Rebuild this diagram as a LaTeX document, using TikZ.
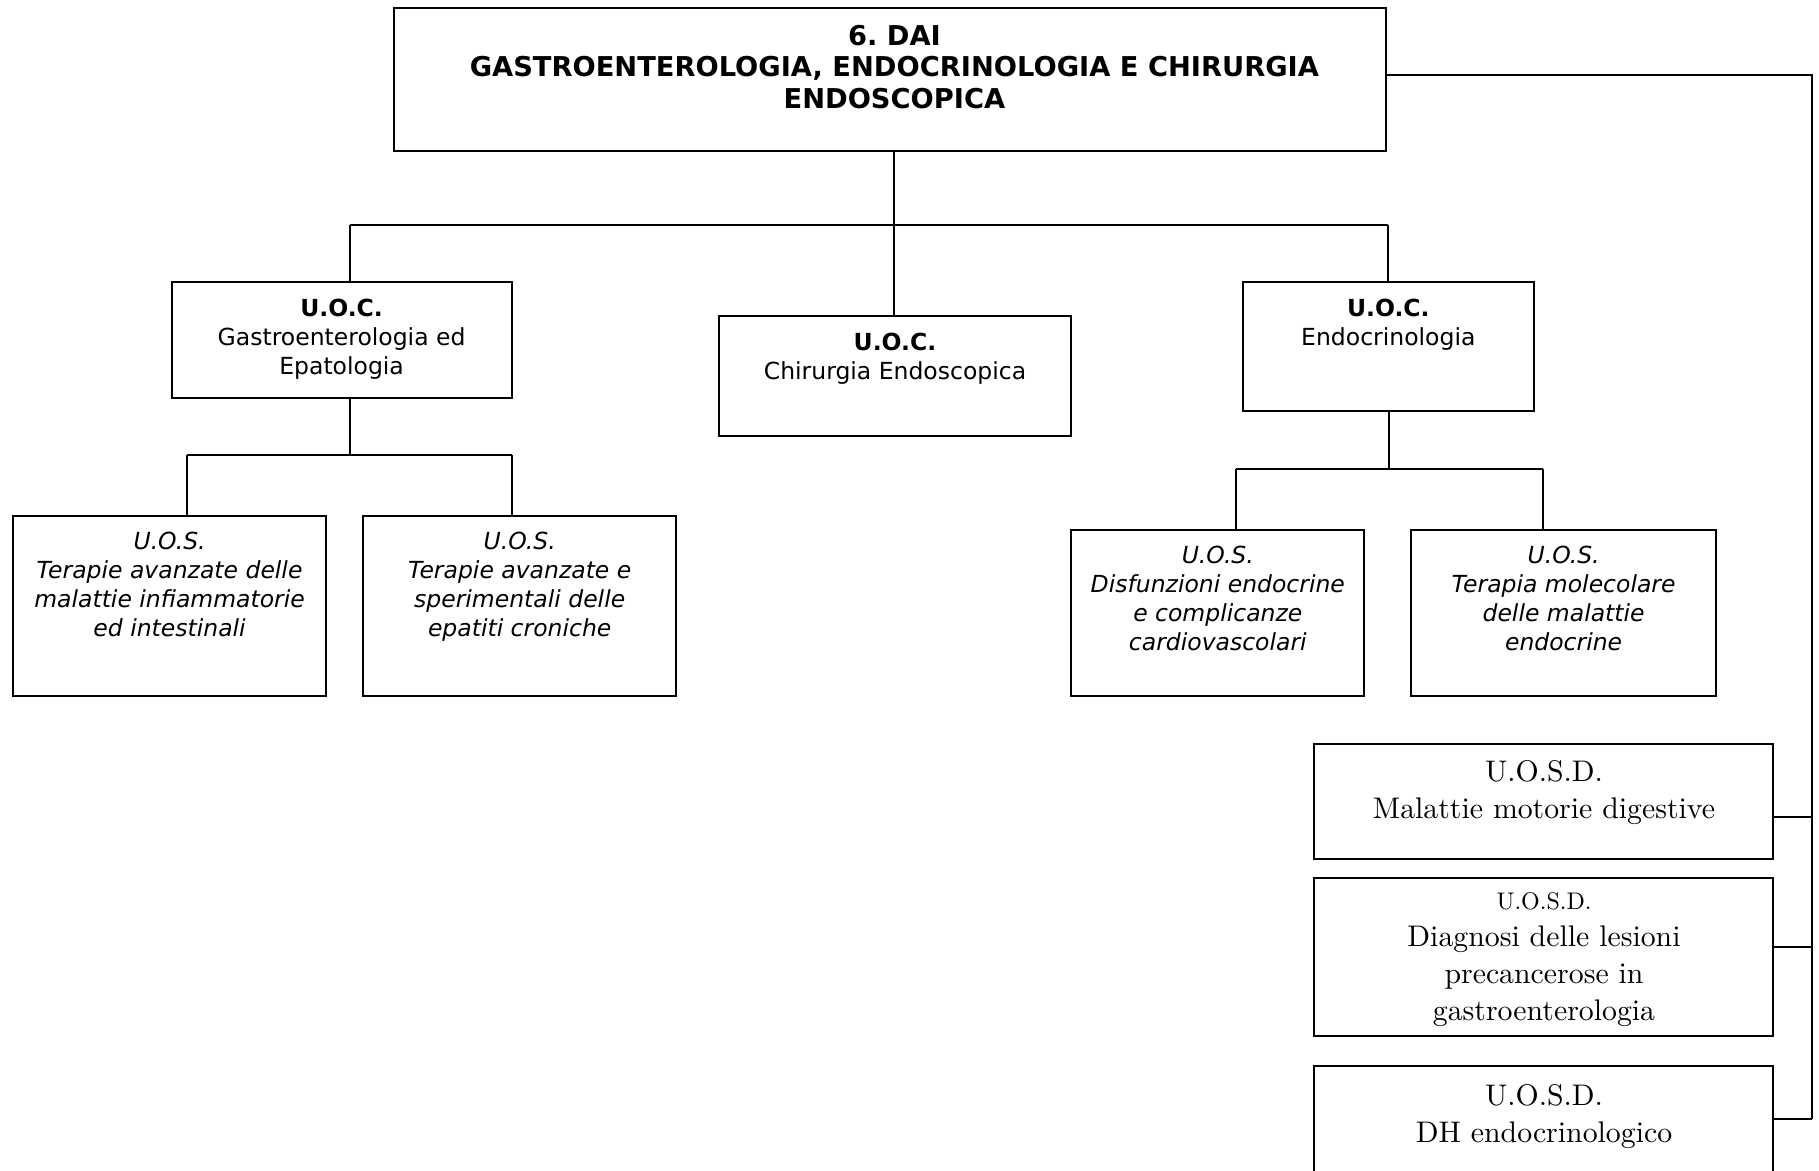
\documentclass[tikz,border=0pt]{standalone}
\usepackage{fontspec}
\setsansfont{DejaVu Sans}
\newfontfamily\serfont{lmroman10-regular}[Extension=.otf]
\frenchspacing
\tikzset{
  box/.style={draw, line width=2pt, inner sep=0pt, rectangle},
  link/.style={line width=2pt},
  titletxt/.style={inner sep=0pt, anchor=north, align=center, font=\sffamily\bfseries\fontsize{27.3}{31.3}\selectfont},
  sanstxt/.style={inner sep=0pt, anchor=north, align=center, font=\sffamily\fontsize{23.5}{29}\selectfont},
  itxt/.style={inner sep=0pt, anchor=north, align=center, font=\sffamily\itshape\fontsize{23.5}{29}\selectfont},
  serftxt/.style={inner sep=0pt, anchor=north, align=center, font=\serfont\fontsize{29.8}{37}\selectfont}
}
\begin{document}
\begin{tikzpicture}[x=1pt,y=-1pt]
\fill[white] (0,0) rectangle (1819,1170);
\clip (0,0) rectangle (1819,1170);
% boxes
\node[box, minimum width=991.9pt, minimum height=142.7pt] (main) at (890.35,79.45) {};
\node[box, minimum width=339.9pt, minimum height=116pt] (gas) at (341.65,339.9) {};
\node[box, minimum width=351.5pt, minimum height=120.7pt] (chir) at (895.05,375.85) {};
\node[box, minimum width=291.1pt, minimum height=128.8pt] (endo) at (1388.05,346.3) {};
\node[box, minimum width=313.2pt, minimum height=179.8pt] (uosa) at (169.4,606.1) {};
\node[box, minimum width=313.2pt, minimum height=179.8pt] (uosb) at (519.7,606.1) {};
\node[box, minimum width=293.5pt, minimum height=165.8pt] (uosc) at (1217.55,613.1) {};
\node[box, minimum width=305.1pt, minimum height=165.8pt] (uosd) at (1563.25,613.1) {};
\node[box, minimum width=459pt, minimum height=115.4pt] (sda) at (1543.5,801.3) {};
\node[box, minimum width=459pt, minimum height=158pt] (sdb) at (1543.5,957) {};
\node[box, minimum width=459pt, minimum height=134pt] (sdc) at (1543.5,1133) {};
% texts
\node[titletxt] (tmain) at (894.4,25) {6. DAI\\GASTROENTEROLOGIA, ENDOCRINOLOGIA E CHIRURGIA\\ENDOSCOPICA};
\node[sanstxt] (tgas) at (341.6,298.8) {\textbf{U.O.C.}\\Gastroenterologia ed\\Epatologia};
\node[sanstxt] (tchir) at (895,332.5) {\textbf{U.O.C.}\\Chirurgia Endoscopica};
\node[sanstxt] (tendo) at (1388.3,298.8) {\textbf{U.O.C.}\\Endocrinologia};
\node[itxt] (tuosa) at (169.6,532) {U.O.S.\\Terapie avanzate delle\\malattie infiammatorie\\ed intestinali};
\node[itxt] (tuosb) at (519.7,532) {U.O.S.\\Terapie avanzate e\\sperimentali delle\\epatiti croniche};
\node[itxt] (tuosc) at (1217.8,546) {U.O.S.\\Disfunzioni endocrine\\e complicanze\\cardiovascolari};
\node[itxt] (tuosd) at (1563.6,546) {U.O.S.\\Terapia molecolare\\delle malattie\\endocrine};
\node[serftxt] (tsda) at (1544,760) {U.O.S.D.\\Malattie motorie digestive};
\node[serftxt] (tsdb) at (1544,892) {{\fontsize{24}{37}\selectfont U.O.S.D.}\\Diagnosi delle lesioni\\precancerose in\\gastroenterologia};
\node[serftxt] (tsdc) at (1544,1084) {U.O.S.D.\\DH endocrinologico};
% junctions
\coordinate (j0) at (894.4,224.5);
\coordinate (jl) at (350.4,224.5);
\coordinate (jr) at (1387.5,224.5);
\coordinate (g0) at (350.4,454.8);
\coordinate (gl) at (186.8,454.8);
\coordinate (gr) at (511.6,454.8);
\coordinate (e0) at (1388.6,468.7);
\coordinate (el) at (1235.5,468.7);
\coordinate (er) at (1543,468.7);
\coordinate (r0) at (1812,75.4);
\coordinate (r1) at (1812,816.7);
\coordinate (r2) at (1812,947);
\coordinate (r3) at (1812,1119);
% connectors
\draw[link] (main.south -| j0) -- (j0);
\draw[link] (jl) -- (jr);
\draw[link] (jl) -- (gas.north -| jl);
\draw[link] (j0) -- (chir.north -| j0);
\draw[link] (jr) -- (endo.north -| jr);
\draw[link] (gas.south -| g0) -- (g0);
\draw[link] (gl) -- (gr);
\draw[link] (gl) -- (uosa.north -| gl);
\draw[link] (gr) -- (uosb.north -| gr);
\draw[link] (endo.south -| e0) -- (e0);
\draw[link] (el) -- (er);
\draw[link] (el) -- (uosc.north -| el);
\draw[link] (er) -- (uosd.north -| er);
\draw[link] (main.east |- r0) -- (r0) -- (r3);
\draw[link] (sda.east |- r1) -- (r1);
\draw[link] (sdb.east |- r2) -- (r2);
\draw[link] (sdc.east |- r3) -- (r3);
\end{tikzpicture}
\end{document}
